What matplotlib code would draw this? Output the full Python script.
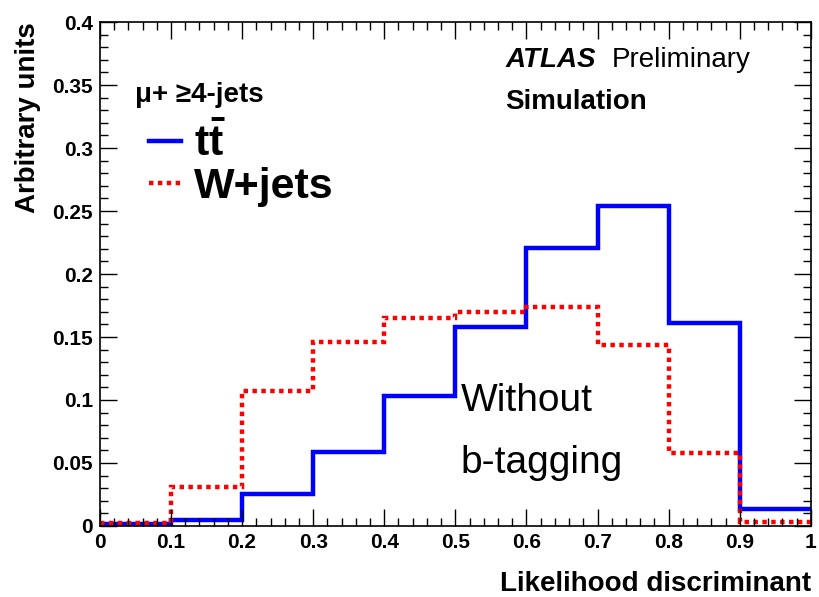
import numpy as np
import matplotlib
matplotlib.use("Agg")
import matplotlib.pyplot as plt
from matplotlib.ticker import MultipleLocator, FormatStrFormatter
from matplotlib.lines import Line2D

plt.rcParams['font.family'] = ['Liberation Sans', 'DejaVu Sans']
plt.rcParams['mathtext.fontset'] = 'custom'
plt.rcParams['mathtext.bf'] = 'Liberation Sans:bold'
plt.rcParams['mathtext.rm'] = 'Liberation Sans'

# bin edges of the likelihood discriminant
edges = np.linspace(0, 1, 11)

# normalised distributions
ttbar = [0.0015, 0.005, 0.025, 0.059, 0.103, 0.158, 0.221, 0.254, 0.161, 0.0135]
wjets = [0.002, 0.031, 0.107, 0.146, 0.165, 0.170, 0.174, 0.144, 0.058, 0.003]

fig = plt.figure(figsize=(8.19, 5.97), dpi=100)
ax = fig.add_axes([0.122, 0.119, 0.868, 0.844])

ax.stairs(ttbar, edges, color='#0000ff', linewidth=3.2, baseline=None)
ax.stairs(wjets, edges, color='#ff0000', linewidth=3.2, linestyle=(0, (1, 1)), baseline=None)

ax.set_xlim(0, 1)
ax.set_ylim(0, 0.4)
ax.xaxis.set_major_locator(MultipleLocator(0.1))
ax.xaxis.set_minor_locator(MultipleLocator(0.02))
ax.yaxis.set_major_locator(MultipleLocator(0.05))
ax.yaxis.set_minor_locator(MultipleLocator(0.01))
ax.yaxis.set_major_formatter(FormatStrFormatter('%g'))
ax.xaxis.set_major_formatter(FormatStrFormatter('%g'))
ax.tick_params(which='both', direction='in', top=True, right=True, width=1)
ax.tick_params(which='major', length=12, labelsize=15, pad=5)
ax.tick_params(which='minor', length=6)
for lab in ax.get_xticklabels() + ax.get_yticklabels():
    lab.set_fontweight('bold')
for s in ax.spines.values():
    s.set_linewidth(1.2)

ax.set_xlabel('Likelihood discriminant', fontsize=20, fontweight='bold', loc='right', labelpad=14)
ax.set_ylabel('Arbitrary units', fontsize=20, fontweight='bold', loc='top', labelpad=8)

ax.text(0.57, 0.925, 'ATLAS', transform=ax.transAxes, fontsize=20,
        fontweight='bold', fontstyle='italic', va='center')
ax.text(0.72, 0.925, 'Preliminary', transform=ax.transAxes, fontsize=20, va='center')
ax.text(0.57, 0.842, 'Simulation', transform=ax.transAxes, fontsize=20,
        fontweight='bold', va='center')

ax.text(0.05, 0.855, '\u03bc+ \u22654-jets', transform=ax.transAxes, fontsize=20,
        fontweight='bold', va='center')

handles = [Line2D([], [], color='#0000ff', linewidth=3.2),
           Line2D([], [], color='#ff0000', linewidth=3.2, linestyle=(0, (1, 1)))]
ax.legend(handles, [r'$\mathbf{t\bar{t}}$', 'W+jets'], loc='upper left',
          bbox_to_anchor=(0.045, 0.835), frameon=False, handlelength=0.75,
          handletextpad=0.3, labelspacing=0.05, borderaxespad=0,
          prop={'size': 31, 'weight': 'bold'})

ax.text(0.507, 0.248, 'Without', transform=ax.transAxes, fontsize=28, va='center')
ax.text(0.507, 0.124, 'b-tagging', transform=ax.transAxes, fontsize=28, va='center')

fig.savefig('out.png', dpi=100)
